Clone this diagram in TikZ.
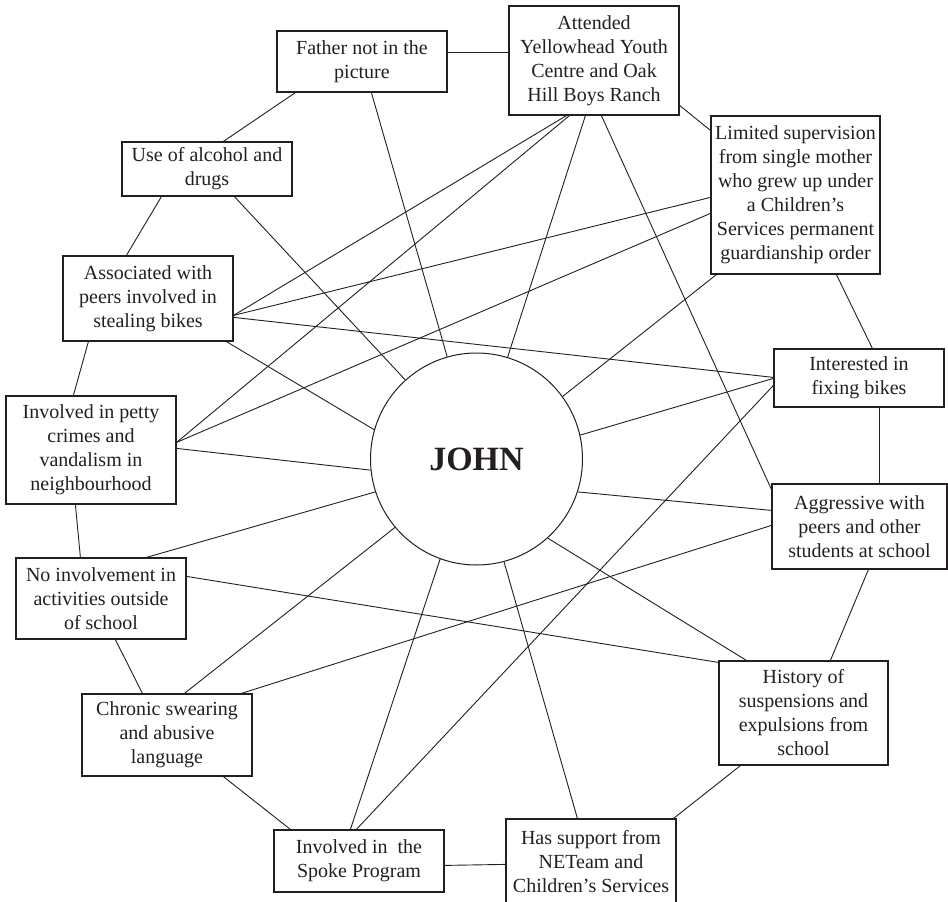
\documentclass[tikz,border=0pt]{standalone}
\usepackage{fontspec}
\setmainfont{Liberation Serif}
\definecolor{ink}{HTML}{231F20}
\begin{document}
\begin{tikzpicture}[x=1pt,y=-1pt,
  box/.style={draw=ink, line width=1.2pt, rectangle, align=center, inner sep=3pt,
    text=ink, font=\fontsize{20}{24}\selectfont},
  link/.style={draw=ink, line width=0.9pt},
  hub/.style={circle, draw=ink, line width=1pt, minimum size=212pt, inner sep=0pt,
    text=ink, font=\bfseries\fontsize{34}{40}\selectfont}]
\useasboundingbox (0,0) rectangle (948,902);

% central person
\node[hub] (john) at (476.5,459) {JOHN};

% surrounding factors
\node[box, minimum width=170pt, minimum height=61pt]  (father)     at (362,61.5)   {Father not in the\\picture};
\node[box, minimum width=170pt, minimum height=54pt]  (use)        at (207,169)    {Use of alcohol and\\drugs};
\node[box, minimum width=170pt, minimum height=85pt]  (assoc)      at (148,298.5)  {Associated with\\peers involved in\\stealing bikes};
\node[box, minimum width=170pt, minimum height=109pt] (attended)   at (594,60.5)   {Attended\\Yellowhead Youth\\Centre and Oak\\Hill Boys Ranch};
\node[box, minimum width=169pt, minimum height=158pt] (limited)    at (795.5,195)  {Limited supervision\\from single mother\\who grew up under\\a Children’s\\Services permanent\\guardianship order};
\node[box, minimum width=170pt, minimum height=108pt] (petty)      at (91,450)     {Involved in petty\\crimes and\\vandalism in\\neighbourhood};
\node[box, minimum width=170pt, minimum height=81pt]  (noinv)      at (101,598.5)  {No involvement in\\activities outside\\of school};
\node[box, minimum width=170pt, minimum height=58pt]  (interested) at (859,378)    {Interested in\\fixing bikes};
\node[box, minimum width=175pt, minimum height=85pt]  (aggressive) at (859.5,526.5){Aggressive with\\peers and other\\students at school};
\node[box, minimum width=170pt, minimum height=82pt]  (chronic)    at (167,735)    {Chronic swearing\\and abusive\\language};
\node[box, minimum width=170pt, minimum height=62pt]  (spoke)      at (359,861)    {Involved in\ \ the\\Spoke Program};
\node[box, minimum width=169pt, minimum height=104pt] (history)    at (803.5,713)  {History of\\suspensions and\\expulsions from\\school};
\node[box, minimum width=170pt, minimum height=86pt]  (support)    at (591,862)    {Has support from\\NETeam and\\Children’s Services};

% outer ring
\draw[link] ([yshift=-22pt]father.north east) -- ([yshift=-47pt]attended.north west);
\draw[link] ([xshift=19pt]father.south west) -- ([xshift=102pt]use.north west);
\draw[link] ([xshift=40pt]use.south west) -- ([xshift=64pt]assoc.north west);
\draw[link] ([xshift=26pt]assoc.south west) -- ([xshift=68pt]petty.north west);
\draw[link] ([xshift=70pt]petty.south west) -- ([xshift=65pt]noinv.north west);
\draw[link] ([xshift=100pt]noinv.south west) -- ([xshift=61pt]chronic.north west);
\draw[link] ([xshift=142pt]chronic.south west) -- ([xshift=17pt]spoke.north west);
\draw[link] ([yshift=-36pt]spoke.north east) -- ([yshift=-46pt]support.north west);
\draw[link] ([xshift=-3pt]support.north east) -- ([xshift=22pt]history.south west);
\draw[link] ([xshift=112pt]history.north west) -- ([xshift=97pt]aggressive.south west);
\draw[link] ([xshift=108pt]aggressive.north west) -- ([xshift=106pt]interested.south west);
\draw[link] ([xshift=99pt]interested.north west) -- ([xshift=126pt]limited.south west);
\draw[link] ([yshift=-100pt]attended.north east) -- ([yshift=-15pt]limited.north west);

% links to John
\draw[link] ([xshift=95pt]father.south west)   -- (john.106.1);
\draw[link] ([xshift=113pt]use.south west)     -- (john.132.9);
\draw[link] ([xshift=164pt]assoc.south west)   -- (john.164.9);
\draw[link] ([yshift=-53pt]petty.north east)   -- (john.186);
\draw[link] ([xshift=131pt]noinv.north west)   -- (john.198.5);
\draw[link] ([xshift=103pt]chronic.north west) -- (john.220.6);
\draw[link] ([xshift=77pt]spoke.north west)    -- (john.250);
\draw[link] ([xshift=72pt]support.north west)  -- (john.285.5);
\draw[link] ([xshift=28pt]history.north west)  -- (john.312.1);
\draw[link] ([yshift=-27pt]aggressive.north west) -- (john.342.5);
\draw[link] ([yshift=-30pt]interested.north west) -- (john.13.6);
\draw[link] ([xshift=6pt]limited.south west)   -- (john.36.4);
\draw[link] ([xshift=77pt]attended.south west) -- (john.73.4);

% cross links between factors
\draw[link] ([xshift=93pt]attended.south west) -- ([yshift=-6pt]aggressive.north west);
\draw[link] ([xshift=58pt]attended.south west) -- ([yshift=-60pt]assoc.north east);
\draw[link] ([xshift=61pt]attended.south west) -- ([yshift=-47pt]petty.north east);
\draw[link] ([yshift=-82pt]limited.north west) -- ([yshift=-60pt]assoc.north east);
\draw[link] ([yshift=-98pt]limited.north west) -- ([yshift=-47pt]petty.north east);
\draw[link] ([yshift=-62pt]assoc.north east) -- ([yshift=-29pt]interested.north west);
\draw[link] ([yshift=-37pt]interested.north west) -- ([xshift=83pt]spoke.north west);
\draw[link] ([yshift=-42pt]aggressive.north west) -- ([xshift=160pt]chronic.north west);
\draw[link] ([yshift=-19pt]noinv.north east) -- ([yshift=-2pt]history.north west);
\end{tikzpicture}
\end{document}
